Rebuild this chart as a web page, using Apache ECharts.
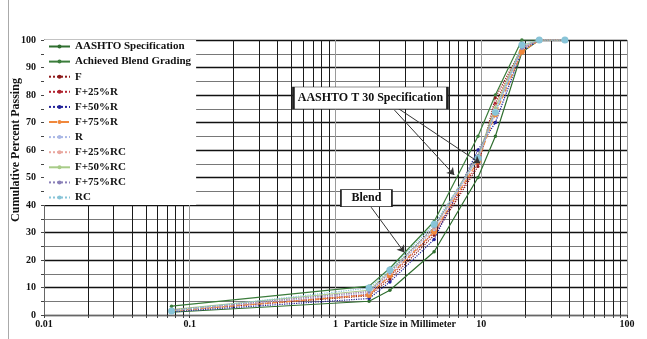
<!DOCTYPE html>
<html><head><meta charset="utf-8">
<script src="https://cdn.jsdelivr.net/npm/echarts@6/dist/echarts.min.js"></script>
<style>html,body{margin:0;padding:0;background:#fff}#c{width:647px;height:339px}</style>
</head><body><div id="c"></div>
<script>
// ---- data (particle size in mm, cumulative % passing) ----
const sieves = [0.075, 1.7, 2.36, 4.75, 9.5, 12.5, 19, 25, 37.5];
const specLower = [1, 5, 9, 23, 50, 65, 95.5, 100];
const specUpper = [3.2, 10.5, 17, 34, 65, 80, 100, 100];
const F       = [1.5, 7.0, 13.0, 29.0, 54.0, 79.0, 97.0, 100, 100];
const F25R    = [1.8, 7.5, 14.0, 30.0, 55.0, 77.0, 97.0, 100, 100];
const F50R    = [1.2, 6.0, 12.0, 27.5, 60.0, 70.0, 96.0, 100, 100];
const F75R    = [1.5, 7.3, 14.5, 30.3, 56.0, 73.0, 95.7, 100, 100];
const R       = [1.6, 8.0, 15.0, 31.0, 57.0, 74.0, 97.0, 100, 100];
const F25RC   = [1.7, 8.5, 15.5, 31.5, 57.0, 75.0, 97.5, 100, 100];
const F50RC   = [2.0, 9.0, 16.0, 32.0, 58.0, 75.5, 98.0, 100, 100];
const F75RC   = [1.8, 8.5, 15.5, 32.0, 58.0, 74.0, 97.0, 100, 100];
const RC      = [1.5, 9.8, 16.4, 33.0, 57.0, 73.7, 98.2, 100, 100];
const xTickLabels = ['0.01', '0.1', '1', '10', '100'];

const seriesDefs = [
  {name: 'AASHTO Specification', vals: specLower, color: '#2f6e2f', type: 'solid', w: 1.2, s: 3.5},
  {name: 'Achieved Blend Grading', vals: specUpper, color: '#3b7d3b', type: 'solid', w: 1.2, s: 3.5},
  {name: 'F', vals: F, color: '#8e1b1b', type: 'dotted', w: 1.2, s: 3},
  {name: 'F+25%R', vals: F25R, color: '#b02430', type: 'dotted', w: 1.2, s: 3},
  {name: 'F+50%R', vals: F50R, color: '#23239a', type: 'dotted', w: 1.2, s: 3.5},
  {name: 'F+75%R', vals: F75R, color: '#f0883c', type: 'dashed', w: 1.2, s: 6},
  {name: 'R', vals: R, color: '#aab8e6', type: 'dotted', w: 1.2, s: 3},
  {name: 'F+25%RC', vals: F25RC, color: '#e9a8a0', type: 'dotted', w: 1.2, s: 3},
  {name: 'F+50%RC', vals: F50RC, color: '#a8cc88', type: 'solid', w: 1, s: 3},
  {name: 'F+75%RC', vals: F75RC, color: '#8a80b8', type: 'dotted', w: 1.2, s: 3},
  {name: 'RC', vals: RC, color: '#88c4d8', type: 'dotted', w: 1.2, s: 7}
];

// log grid positions (1..9 in each decade)
const gridX = [];
for (let e = -2; e <= 1; e++) for (let m = 1; m <= 9; m++) gridX.push(Number((m * Math.pow(10, e)).toPrecision(3)));
gridX.push(100);
const gridColors = ['#9a9a9a', '#1a1a1a', '#1a1a1a', '#1a1a1a', '#1a1a1a', '#1a1a1a', '#1a1a1a', '#1a1a1a', '#1a1a1a'];

const serif = 'Liberation Serif';
const series = seriesDefs.map(d => ({
  name: d.name, type: 'line', z: 10,
  data: d.vals.map((v, i) => [sieves[i], v]),
  symbol: 'circle', symbolSize: d.s, showAllSymbol: true,
  itemStyle: {color: d.color},
  lineStyle: {color: d.color, width: d.w, type: d.type},
  emphasis: {disabled: true}, animation: false
}));

const boxLabel = (text, size) => ({show: true, position: 'inside', formatter: text,
  fontFamily: serif, fontWeight: 'bold', fontSize: size, color: '#111'});

series.push({
  name: '_annot', type: 'line', data: [], z: 20, animation: false,
  markLine: {
    silent: true, z: 20, animation: false,
    symbol: ['none', 'arrow'], symbolSize: 7,
    label: {show: false},
    lineStyle: {color: '#333', width: 1, type: 'solid'},
    data: [
      [{coord: [2.54, 74.5]}, {coord: [6.53, 50.9]}],
      [{coord: [2.66, 75.3]}, {coord: [9.84, 55.2]}],
      [{coord: [1.756, 39.2]}, {coord: [2.97, 22.7]}]
    ]
  },
  markPoint: {
    silent: true, z: 21, animation: false,
    data: [
      {coord: [1.737, 78.9], symbol: 'rect', symbolSize: [154, 22],
       itemStyle: {color: '#fff', borderColor: '#222', borderWidth: 1},
       label: boxLabel('AASHTO T 30 Specification', 12)},
      {coord: [1.63, 42.5], symbol: 'rect', symbolSize: [51, 17],
       itemStyle: {color: '#fff', borderColor: '#222', borderWidth: 1},
       label: boxLabel('Blend', 12)}
    ]
  }
});

const chart = echarts.init(document.getElementById('c'));
chart.setOption({
  animation: false,
  backgroundColor: '#fff',
  grid: {left: 44, right: 20, top: 40, bottom: 24, containLabel: false},
  xAxis: {
    type: 'log', logBase: 10, min: 0.01, max: 100,
    axisLine: {show: true, lineStyle: {color: '#666', width: 1}},
    axisTick: {show: true, length: 3, customValues: gridX, lineStyle: {color: '#444'}},
    axisLabel: {color: '#111', fontFamily: serif, fontWeight: 'bold', fontSize: 10, margin: 4,
      formatter: v => xTickLabels[Math.round(Math.log10(v)) + 2]},
    splitLine: {show: true, lineStyle: {color: gridColors, width: 1}}
  },
  yAxis: {
    type: 'value', min: 0, max: 100, interval: 10,
    axisLine: {show: true, lineStyle: {color: '#666', width: 1}},
    axisTick: {show: true, length: 3, lineStyle: {color: '#444'}},
    minorTick: {show: true, splitNumber: 2, length: 3, lineStyle: {color: '#444'}},
    axisLabel: {color: '#111', fontFamily: serif, fontWeight: 'bold', fontSize: 10, margin: 8},
    splitLine: {show: true, lineStyle: {color: '#111', width: 1.4}},
    minorSplitLine: {show: true, lineStyle: {color: '#555', width: 0.8}}
  },
  legend: {
    orient: 'vertical', left: 44, top: 40,
    data: seriesDefs.map(d => d.name),
    backgroundColor: '#fff',
    padding: [1, 5, 2, 4],
    itemWidth: 21, itemHeight: 5, itemGap: 4.1,
    textStyle: {fontFamily: serif, fontWeight: 'bold', fontSize: 11, color: '#111'},
    selectedMode: false
  },
  graphic: [
    {type: 'line', shape: {x1: 8.5, y1: 0, x2: 8.5, y2: 339}, style: {stroke: '#aaa', lineWidth: 1}},
    {type: 'text', x: 16, y: 150, rotation: Math.PI / 2,
     style: {text: 'Cumulative Percent Passing', font: 'bold 12px "Liberation Serif"', fill: '#111',
       textAlign: 'center', textVerticalAlign: 'middle'}},
    {type: 'text', x: 400, y: 324,
     style: {text: 'Particle Size in Millimeter', font: 'bold 10px "Liberation Serif"', fill: '#111',
       textAlign: 'center', textVerticalAlign: 'middle'}}
  ],
  series: series
});
</script>
</body></html>
